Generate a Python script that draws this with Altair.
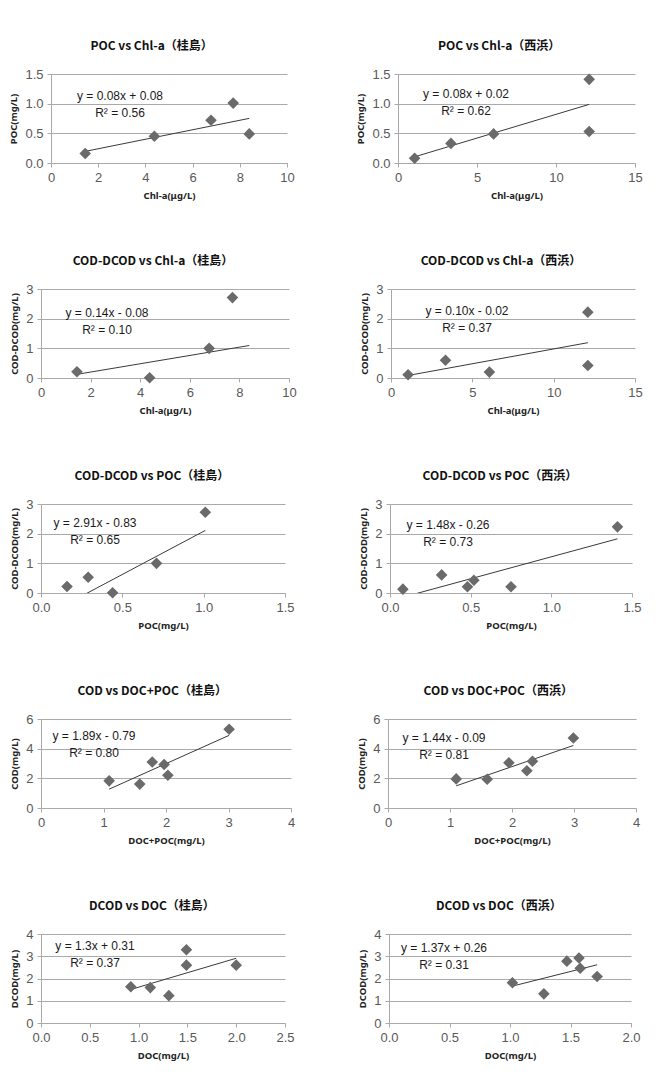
import re
import altair as alt
import pandas as pd

# ---- measurements per panel (row-major: 桂島 left, 西浜 right) ----
titles = [
    "POC vs Chl-a（桂島）", "POC vs Chl-a（西浜）",
    "COD-DCOD vs Chl-a（桂島）", "COD-DCOD vs Chl-a（西浜）",
    "COD-DCOD vs POC（桂島）", "COD-DCOD vs POC（西浜）",
    "COD vs DOC+POC（桂島）", "COD vs DOC+POC（西浜）",
    "DCOD vs DOC（桂島）", "DCOD vs DOC（西浜）",
]
x_titles = ["Chl-a(μg/L)", "Chl-a(μg/L)", "Chl-a(μg/L)", "Chl-a(μg/L)",
            "POC(mg/L)", "POC(mg/L)", "DOC+POC(mg/L)", "DOC+POC(mg/L)",
            "DOC(mg/L)", "DOC(mg/L)"]
y_titles = ["POC(mg/L)", "POC(mg/L)", "COD-DCOD(mg/L)", "COD-DCOD(mg/L)",
            "COD-DCOD(mg/L)", "COD-DCOD(mg/L)", "COD(mg/L)", "COD(mg/L)",
            "DCOD(mg/L)", "DCOD(mg/L)"]

x_values = [
    [1.45, 4.38, 6.78, 7.72, 8.4],
    [1.05, 3.35, 6.05, 12.1, 12.1],
    [1.45, 4.38, 6.78, 7.72],
    [1.05, 3.35, 6.05, 12.1, 12.1],
    [0.16, 0.29, 0.44, 0.71, 1.01],
    [0.08, 0.32, 0.48, 0.52, 0.75, 1.41],
    [1.09, 1.58, 1.78, 1.97, 2.03, 3.01],
    [1.10, 1.60, 1.95, 2.24, 2.33, 2.99],
    [0.92, 1.12, 1.31, 1.49, 1.49, 2.00],
    [1.02, 1.28, 1.47, 1.57, 1.58, 1.72],
]
y_values = [
    [0.16, 0.45, 0.72, 1.01, 0.49],
    [0.08, 0.33, 0.49, 1.41, 0.53],
    [0.21, 0.01, 1.00, 2.71],
    [0.11, 0.60, 0.20, 2.22, 0.42],
    [0.22, 0.53, 0.01, 1.00, 2.72],
    [0.13, 0.61, 0.21, 0.43, 0.21, 2.23],
    [1.83, 1.61, 3.10, 2.93, 2.21, 5.31],
    [1.96, 1.94, 3.05, 2.51, 3.15, 4.72],
    [1.63, 1.59, 1.23, 3.29, 2.60, 2.60],
    [1.81, 1.31, 2.78, 2.92, 2.46, 2.09],
]
# x span covered by each linear trendline
fit_span = [
    [1.45, 8.4], [1.05, 12.1], [1.45, 8.4], [1.05, 12.1], [0.16, 1.01],
    [0.08, 1.41], [1.09, 3.01], [1.10, 2.99], [0.92, 2.00], [1.02, 1.72],
]
equations = [
    "y = 0.08x + 0.08", "y = 0.08x + 0.02",
    "y = 0.14x - 0.08", "y = 0.10x - 0.02",
    "y = 2.91x - 0.83", "y = 1.48x - 0.26",
    "y = 1.89x - 0.79", "y = 1.44x - 0.09",
    "y = 1.3x + 0.31", "y = 1.37x + 0.26",
]
r_squared = ["0.56", "0.62", "0.10", "0.37", "0.65", "0.73", "0.80", "0.81", "0.37", "0.31"]

x_ticks = [
    [0, 2, 4, 6, 8, 10], [0, 5, 10, 15],
    [0, 2, 4, 6, 8, 10], [0, 5, 10, 15],
    [0.0, 0.5, 1.0, 1.5], [0.0, 0.5, 1.0, 1.5],
    [0, 1, 2, 3, 4], [0, 1, 2, 3, 4],
    [0.0, 0.5, 1.0, 1.5, 2.0, 2.5], [0.0, 0.5, 1.0, 1.5, 2.0],
]
y_ticks = [
    [0.0, 0.5, 1.0, 1.5], [0.0, 0.5, 1.0, 1.5],
    [0, 1, 2, 3], [0, 1, 2, 3],
    [0, 1, 2, 3], [0, 1, 2, 3],
    [0, 2, 4, 6], [0, 2, 4, 6],
    [0, 1, 2, 3, 4], [0, 1, 2, 3, 4],
]
x_formats = ["d", "d", "d", "d", ".1f", ".1f", "d", "d", ".1f", ".1f"]
y_formats = [".1f", ".1f", "d", "d", "d", "d", "d", "d", "d", "d"]

# layout: plot sizes, left inset of the plot inside its cell, gap between
# the two panels of each row, and equation-label anchor (px in plot area)
plot_w = [236, 237, 248, 244, 244, 242, 250, 248, 244, 242]
plot_h = 89
inset = [10, 0, 0, 0, 0, 0, 0, 0, 0, 0]
row_gap = [60, 62, 63, 61, 62]
label_xy = [(69, 26), (68, 24), (66, 28), (76, 26), (54, 23),
            (58, 25), (53, 21), (56, 23), (54, 16), (55, 18)]

GRID = "#a9a9a9"
TICK_LABEL = "#595959"


def parse_line(eq):
    m = re.match(r"y = ([\d.]+)x ([+-]) ([\d.]+)", eq)
    slope = float(m.group(1))
    icpt = float(m.group(3)) * (1 if m.group(2) == "+" else -1)
    return slope, icpt


def panel(i):
    pts_df = pd.DataFrame({"x": x_values[i], "y": y_values[i]})
    slope, icpt = parse_line(equations[i])
    fit_df = pd.DataFrame({"x": fit_span[i],
                           "y": [slope * v + icpt for v in fit_span[i]]})

    d = inset[i]
    cell_w = plot_w[i] + d
    xs = alt.Scale(domain=[x_ticks[i][0], x_ticks[i][-1]], nice=False, zero=False,
                   range=[d, cell_w])
    ys = alt.Scale(domain=[y_ticks[i][0], y_ticks[i][-1]], nice=False, zero=False)

    x_axis = alt.Axis(values=x_ticks[i], format=x_formats[i], title=x_titles[i],
                      grid=False, labelOverlap=False, labelFlush=False)
    y_kw = dict(values=y_ticks[i], format=y_formats[i], title=y_titles[i],
                grid=True, labelOverlap=False, labelFlush=False,
                tickCount=len(y_ticks[i]))
    if d:
        y_kw["offset"] = -d
    y_axis = alt.Axis(**y_kw)

    enc_x = alt.X("x:Q", scale=xs, axis=x_axis)
    enc_y = alt.Y("y:Q", scale=ys, axis=y_axis)

    points = alt.Chart(pts_df).mark_point(
        shape="diamond", filled=True, size=135, color="#6a6a6a", opacity=1
    ).encode(x=enc_x, y=enc_y)
    trend = alt.Chart(fit_df).mark_line(
        color="#3a3a3a", strokeWidth=1, clip=True
    ).encode(x=enc_x, y=enc_y)

    lx, ly = label_xy[i]
    label = alt.Chart(pd.DataFrame({"k": [0]})).mark_text(
        text=[equations[i], "R² = " + r_squared[i]],
        align="center", baseline="alphabetic", lineHeight=17,
        font="Liberation Sans", fontSize=12, color="#1a1a1a",
    ).encode(x=alt.value(lx + d), y=alt.value(ly))

    return alt.layer(trend, points, label).properties(
        width=cell_w, height=plot_h,
        title=alt.TitleParams(titles[i], font="Noto Sans CJK JP", fontSize=12,
                              fontWeight="bold", color="#111111",
                              anchor="middle", frame="bounds", offset=15),
    )


rows = [alt.hconcat(panel(2 * r), panel(2 * r + 1), spacing=row_gap[r])
        for r in range(5)]
chart = alt.vconcat(*rows, spacing=55).properties(
    padding={"top": 40, "left": 8, "right": 6, "bottom": 6},
    background="white",
).configure_view(stroke=None).configure_axis(
    domainColor=GRID, tickColor=GRID, gridColor=GRID, gridWidth=1,
    tickSize=4, labelFont="Liberation Sans", labelFontSize=13,
    labelColor=TICK_LABEL, labelPadding=4,
    titleFont="Noto Sans", titleFontSize=9.5, titleFontWeight="bold",
    titleColor="#222222",
).configure_axisX(titlePadding=6).configure_axisY(titlePadding=6)

chart.save("out.html", embed_options={"renderer": "svg", "actions": False})
